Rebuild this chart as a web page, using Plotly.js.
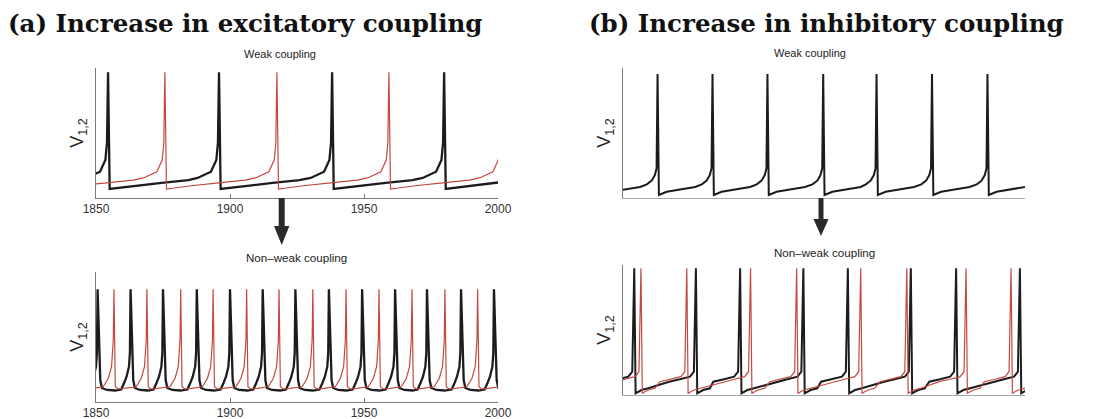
<!DOCTYPE html>
<html>
<head>
<meta charset="utf-8">
<script src="https://cdn.plot.ly/plotly-3.0.1.min.js"></script>
<style>
html,body{margin:0;padding:0;background:#fff;}
#chart{width:1102px;height:419px;}
</style>
</head>
<body>
<div id="chart"></div>
<script>
// ---------------- DATA ----------------
// time axis (panel a)
const timeRange = [1850, 2000];
const timeTicks = [1850, 1900, 1950, 2000];
const voltRange = [-80, 40];

// spike times (arbitrary time units) - (a) weak coupling
const aTopBlackSpikes = [1812.7, 1854.5, 1895.9, 1938.1, 1979.9, 2021.7];
const aTopRedSpikes   = [1833.9, 1875.7, 1917.5, 1959.3, 2001.1];
// (a) non-weak coupling
const aBotBlackSpikes = [1838.3, 1850.6, 1862.9, 1875.0, 1887.6, 1900.0, 1912.2, 1924.4,
                         1936.9, 1949.3, 1961.6, 1973.5, 1986.2, 1998.5, 2010.8];
const aBotRedSpikes   = [1844.4, 1856.7, 1869.0, 1881.6, 1893.7, 1906.2, 1918.3, 1930.9,
                         1943.3, 1955.6, 1967.9, 1980.2, 1992.4, 2004.7];
// (b) weak coupling (both cells in phase)
const bTopSpikes      = [1842.4, 1862.9, 1883.4, 1903.9, 1924.7, 1944.6, 1965.3, 1986.0, 2006.5];
// (b) non-weak coupling
const bBotBlackSpikes = [1837.7, 1854.2, 1877.2, 1893.7, 1917.3, 1933.9, 1957.4, 1974.3, 1998.1, 2014.6];
const bBotRedSpikes   = [1832.9, 1856.7, 1873.8, 1897.6, 1914.8, 1938.7, 1955.9, 1978.0, 1994.8, 2018.6];

// spike waveform samples: offset from spike time -> voltage
const aTopPreDt   = [-8, -3, -1, -0.4];
const aTopPreV    = [-61.5, -55.7, -44.9, -29.2];
const aTopPeakV   = 36;
const aTopPostDt  = [0.6, 3, 9, 20, 30];
const aTopPostV   = [-71.7, -71.0, -68.9, -66.0, -63.5];

const aBotBlackPreDt  = [-3.5, -2.5, -1.5, -0.6, -0.25];
const aBotBlackPreV   = [-68.5, -63.0, -56.6, -47.4, -34.8];
const aBotBlackPeakV  = 24;
const aBotBlackPostDt = [0.5, 1.0, 1.6, 3.5, 6.5];
const aBotBlackPostV  = [-22.8, -59.7, -67.1, -68.9, -69.4];

const aBotRedPreDt  = [-4, -2.1, -0.9, -0.25];
const aBotRedPreV   = [-65.9, -58.1, -47.4, -22.8];
const aBotRedPeakV  = 24;
const aBotRedPostDt = [0.5, 1.5, 4, 7];
const aBotRedPostV  = [-65.9, -68.0, -67.5, -66.5];

const bTopPreDt  = [-4, -2.2, -1.0, -0.37];
const bTopPreV   = [-67.4, -64.0, -58.8, -52.6];
const bTopPeakV  = 34.5;
const bTopPostDt = [0.5, 3.4, 8.3, 14];
const bTopPostV  = [-77.2, -74.2, -72.0, -69.8];

const bBotPreDt  = [-10, -6, -2.2, -0.75];
const bBotPreV   = [-67.7, -65.5, -63.1, -58.5];
const bBotPeakV  = 37;
const bBotPostDt = [0.5, 2.7, 5.2];
const bBotPostV  = [-78.4, -75.4, -73.8];

// texts
const panelTitles = ['(a) Increase in excitatory coupling', '(b) Increase in inhibitory coupling'];
const subTitles = ['Weak coupling', 'Non\u2013weak coupling'];
const yLabel = 'V<sub>1,2</sub>';

// ---------------- BUILD ----------------
function train(spikes, preDt, preV, peakV, postDt, postV) {
  const x = [], y = [];
  spikes.forEach(s => {
    preDt.forEach((d, j) => { x.push(s + d); y.push(preV[j]); });
    x.push(s); y.push(peakV);
    postDt.forEach((d, j) => { x.push(s + d); y.push(postV[j]); });
  });
  return {x, y};
}

const W = 1102, H = 419;
const px = v => v / W;
const py = v => 1 - v / H;

const BLACK = '#1c1c1c', RED = '#c4483f';

function tr(data, ax, color, width) {
  return {x: data.x, y: data.y, xaxis: 'x' + ax, yaxis: 'y' + ax, type: 'scatter', mode: 'lines',
          line: {color: color, width: width}, hoverinfo: 'skip', showlegend: false};
}

const traces = [
  tr(train(aTopBlackSpikes, aTopPreDt, aTopPreV, aTopPeakV, aTopPostDt, aTopPostV), '', BLACK, 2.3),
  tr(train(aTopRedSpikes, aTopPreDt, aTopPreV, aTopPeakV, aTopPostDt, aTopPostV), '', RED, 1.2),
  tr(train(aBotBlackSpikes, aBotBlackPreDt, aBotBlackPreV, aBotBlackPeakV, aBotBlackPostDt, aBotBlackPostV), '2', BLACK, 2.3),
  tr(train(aBotRedSpikes, aBotRedPreDt, aBotRedPreV, aBotRedPeakV, aBotRedPostDt, aBotRedPostV), '2', RED, 1.2),
  tr(train(bTopSpikes, bTopPreDt, bTopPreV, bTopPeakV, bTopPostDt, bTopPostV), '3', BLACK, 2.0),
  tr(train(bBotBlackSpikes, bBotPreDt, bBotPreV, bBotPeakV, bBotPostDt, bBotPostV), '4', BLACK, 2.0),
  tr(train(bBotRedSpikes, bBotPreDt, bBotPreV, bBotPeakV, bBotPostDt, bBotPostV), '4', RED, 1.2)
];
traces[0].xaxis = 'x'; traces[0].yaxis = 'y';
traces[1].xaxis = 'x'; traces[1].yaxis = 'y';

const sans = 'Liberation Sans, Arial, sans-serif';

function xax(dom, anchor, labels) {
  return {domain: dom, anchor: anchor, range: timeRange, showline: true, linecolor: labels ? '#7a7a7a' : '#a8a8a8',
          linewidth: 1, showgrid: false, zeroline: false, fixedrange: true,
          ticks: labels ? 'inside' : '', ticklen: 4, tickcolor: '#7a7a7a', tickvals: timeTicks,
          showticklabels: labels, tickfont: {family: sans, size: 12, color: '#333'}};
}
function yax(dom, anchor) {
  return {domain: dom, anchor: anchor, range: voltRange, showline: true, linecolor: '#7a7a7a', linewidth: 1,
          showgrid: false, zeroline: false, showticklabels: false, ticks: '', fixedrange: true,
          title: {text: yLabel, standoff: 6, font: {family: sans, size: 18, color: '#222'}}};
}

const ann = [];
ann.push({text: '<b>' + panelTitles[0] + '</b>', x: px(245), y: py(23), xref: 'paper', yref: 'paper',
          xanchor: 'center', yanchor: 'middle', showarrow: false, font: {family: 'DejaVu Serif', size: 24.5, color: '#111'}});
ann.push({text: '<b>' + panelTitles[1] + '</b>', x: px(826), y: py(23), xref: 'paper', yref: 'paper',
          xanchor: 'center', yanchor: 'middle', showarrow: false, font: {family: 'DejaVu Serif', size: 24.5, color: '#111'}});
[[280, 54, 0, 11], [810, 53, 0, 11], [296, 257, 1, 11.6], [824, 252, 1, 11.6]].forEach(p => {
  ann.push({text: subTitles[p[2]], x: px(p[0]), y: py(p[1]), xref: 'paper', yref: 'paper', xanchor: 'center',
            yanchor: 'middle', showarrow: false, font: {family: sans, size: p[3], color: '#222'}});
});

const shapes = [];
function arrow(cx, y0, yHead, yTip, halfW, shaftW) {
  shapes.push({type: 'rect', xref: 'paper', yref: 'paper', x0: px(cx - shaftW / 2), x1: px(cx + shaftW / 2),
               y0: py(y0), y1: py(yHead + 1), line: {width: 0}, fillcolor: '#2a2a2a'});
  shapes.push({type: 'path', xref: 'paper', yref: 'paper',
               path: 'M ' + px(cx - halfW) + ' ' + py(yHead) + ' L ' + px(cx + halfW) + ' ' + py(yHead) +
                     ' L ' + px(cx) + ' ' + py(yTip) + ' Z', line: {width: 0}, fillcolor: '#2a2a2a'});
}
arrow(281.7, 198, 226, 245, 7.7, 6);
arrow(821, 198, 219, 236, 7.5, 5);

const layout = {
  width: W, height: H, margin: {l: 0, r: 0, t: 0, b: 0}, paper_bgcolor: '#fff', plot_bgcolor: 'rgba(0,0,0,0)',
  showlegend: false,
  xaxis:  xax([px(96), px(498)], 'y', true),
  yaxis:  yax([py(198), py(68)], 'x'),
  xaxis2: xax([px(96), px(498)], 'y2', true),
  yaxis2: yax([py(402), py(272)], 'x2'),
  xaxis3: xax([px(623), px(1025)], 'y3', false),
  yaxis3: yax([py(198), py(68)], 'x3'),
  xaxis4: xax([px(623), px(1025)], 'y4', false),
  yaxis4: yax([py(395), py(265)], 'x4'),
  annotations: ann, shapes: shapes
};

Plotly.newPlot('chart', traces, layout, {displayModeBar: false, staticPlot: true});
</script>
</body>
</html>
